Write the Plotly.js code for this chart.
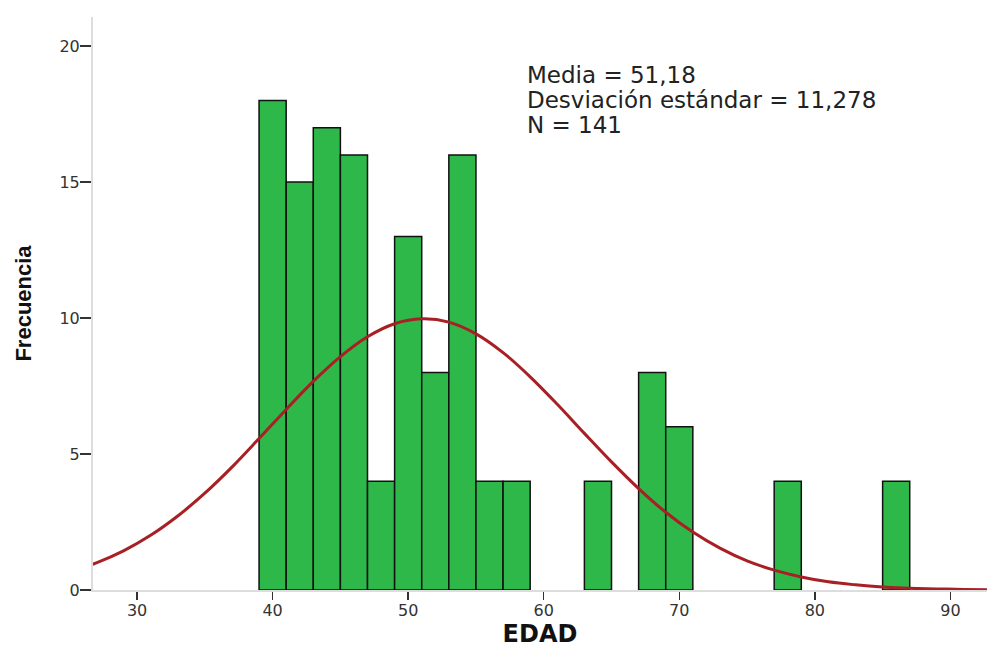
<!DOCTYPE html>
<html>
<head>
<meta charset="utf-8">
<script src="https://cdn.plot.ly/plotly-3.0.1.min.js"></script>
<style>html,body{margin:0;padding:0;background:#fff;}#chart{width:987px;height:648px;}</style>
</head>
<body>
<div id="chart"></div>
<script>
// Histogram bins (centres of 2-year bins) and frequencies
var binCenters = [40, 42, 44, 46, 48, 50, 52, 54, 56, 58, 64, 68, 70, 78, 86];
var frequencies = [18, 15, 17, 16, 4, 13, 8, 16, 4, 4, 4, 8, 6, 4, 4];
var binWidth = 2;

// Normal curve
var curveX = [25, 27, 29, 31, 33, 35, 37, 39, 41, 43, 45, 47, 49, 51, 53, 55, 57, 59, 61, 63, 65, 67, 69, 71, 73, 75, 77, 79, 81, 83, 85, 87, 89, 91, 93];
var curveY = [0.67, 1.00, 1.44, 2.01, 2.72, 3.56, 4.52, 5.57, 6.64, 7.67, 8.58, 9.31, 9.79, 9.97, 9.85, 9.42, 8.73, 7.84, 6.83, 5.76, 4.71, 3.73, 2.86, 2.13, 1.54, 1.07, 0.73, 0.48, 0.30, 0.19, 0.11, 0.06, 0.04, 0.02, 0.01];

var xTicks = [30, 40, 50, 60, 70, 80, 90];
var yTicks = [0, 5, 10, 15, 20];
var statsLines = ["Media = 51,18", "Desviación estándar = 11,278", "N = 141"];

var widths = binCenters.map(function(){ return binWidth; });

var traces = [
  {
    type: 'bar',
    x: binCenters,
    y: frequencies,
    width: widths,
    marker: {color: '#2eb84a', line: {color: '#111111', width: 1.5}},
    hoverinfo: 'x+y'
  },
  {
    type: 'scatter',
    mode: 'lines',
    x: curveX,
    y: curveY,
    line: {color: '#a81f24', width: 3, shape: 'spline'},
    hoverinfo: 'skip'
  }
];

var annotations = statsLines.map(function(t, i){
  return {
    text: t, xref: 'paper', yref: 'paper',
    x: 0.483, y: 0.8988 - i * 0.0436,
    xanchor: 'left', yanchor: 'middle', showarrow: false, align: 'left',
    font: {family: 'DejaVu Sans, sans-serif', size: 23, color: '#222222'}
  };
});

var tickFont = {family: 'DejaVu Sans, sans-serif', size: 16, color: '#333333'};

var layout = {
  width: 987, height: 648,
  margin: {l: 93, r: 0, t: 17, b: 58},
  paper_bgcolor: '#ffffff', plot_bgcolor: '#ffffff',
  showlegend: false,
  bargap: 0,
  xaxis: {
    range: [26.75, 92.7],
    tickvals: xTicks, ticktext: xTicks.map(String),
    ticks: 'outside', ticklen: 8, tickwidth: 1.5, tickcolor: '#333333',
    ticklabelstandoff: -3,
    showgrid: false, zeroline: false,
    showline: true, linecolor: '#dddddd', linewidth: 2,
    tickfont: tickFont,
    title: {text: '<b>EDAD</b>', standoff: 9, font: {family: 'DejaVu Sans, sans-serif', size: 24, color: '#111111'}}
  },
  yaxis: {
    range: [0, 21.07],
    tickvals: yTicks, ticktext: yTicks.map(String),
    ticks: 'outside', ticklen: 11, tickwidth: 1.5, tickcolor: '#333333',
    ticklabelstandoff: -3,
    showgrid: false, zeroline: false,
    showline: true, linecolor: '#dddddd', linewidth: 2,
    tickfont: tickFont,
    title: {text: '<b>Frecuencia</b>', standoff: 22, font: {family: 'Liberation Sans Narrow, Arial Narrow, Liberation Sans, sans-serif', size: 22, color: '#111111'}}
  },
  annotations: annotations
};

Plotly.newPlot('chart', traces, layout, {displayModeBar: false, staticPlot: true});
</script>
</body>
</html>
